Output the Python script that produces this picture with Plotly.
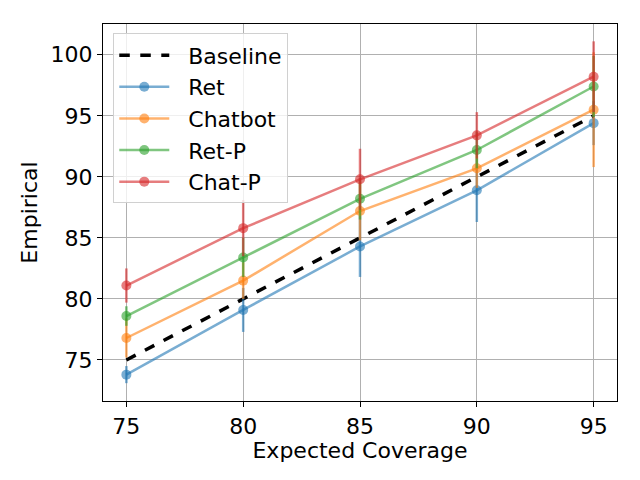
import plotly.graph_objects as go

coverage = [75, 80, 85, 90, 95]
baseline = [75, 80, 85, 90, 95]

ret = [73.8, 79.1, 84.3, 88.9, 94.4]
ret_err = [0.7, 1.8, 2.5, 2.6, 1.8]
chatbot = [76.8, 81.5, 87.2, 90.7, 95.5]
chatbot_err = [1.6, 1.5, 2.4, 1.6, 4.7]
ret_p = [78.6, 83.4, 88.2, 92.2, 97.4]
ret_p_err = [0.8, 1.6, 1.7, 1.5, 2.5]
chat_p = [81.1, 85.8, 89.8, 93.4, 98.2]
chat_p_err = [1.4, 2.3, 2.5, 1.9, 2.9]

names = ['Ret', 'Chatbot', 'Ret-P', 'Chat-P']
colors = ['rgba(31,119,180,0.6)', 'rgba(255,127,14,0.6)',
          'rgba(44,160,44,0.6)', 'rgba(214,39,40,0.6)']

fig = go.Figure()
fig.add_trace(go.Scatter(x=coverage, y=baseline, mode='lines', name='  Baseline',
                         line=dict(color='black', width=3.5, dash='dash')))

for name, vals, errs, col in zip(names, [ret, chatbot, ret_p, chat_p],
                                 [ret_err, chatbot_err, ret_p_err, chat_p_err], colors):
    fig.add_trace(go.Scatter(x=coverage, y=vals, mode='lines+markers', name='  ' + name,
                             line=dict(color=col, width=2.5),
                             marker=dict(color=col, size=10),
                             error_y=dict(type='data', array=errs, color=col,
                                          thickness=2.5, width=0)))

axis_common = dict(showline=True, linecolor='black', linewidth=1.2, mirror=True,
                   showgrid=True, gridcolor='#b0b0b0', gridwidth=1,
                   ticks='outside', ticklen=5, tickcolor='black', zeroline=False,
                   tickfont=dict(size=22, color='black'))

fig.update_layout(
    width=640, height=480,
    margin=dict(l=95, r=31, t=16, b=87),
    paper_bgcolor='white', plot_bgcolor='white',
    font=dict(family='DejaVu Sans', color='black'),
    xaxis=dict(range=[74, 96], tickvals=coverage,
               title=dict(text='Expected Coverage', font=dict(size=22), standoff=2),
               **axis_common),
    yaxis=dict(range=[71.64, 102.52], tickvals=[75, 80, 85, 90, 95, 100],
               title=dict(text='Empirical', font=dict(size=22), standoff=6),
               **axis_common),
    legend=dict(x=0.02, y=0.975, xanchor='left', yanchor='top',
                bgcolor='rgba(255,255,255,0.8)', bordercolor='#d0d0d0', borderwidth=1,
                font=dict(size=22), itemwidth=50, tracegroupgap=0),
    showlegend=True,
)

fig.write_html("out.html")
